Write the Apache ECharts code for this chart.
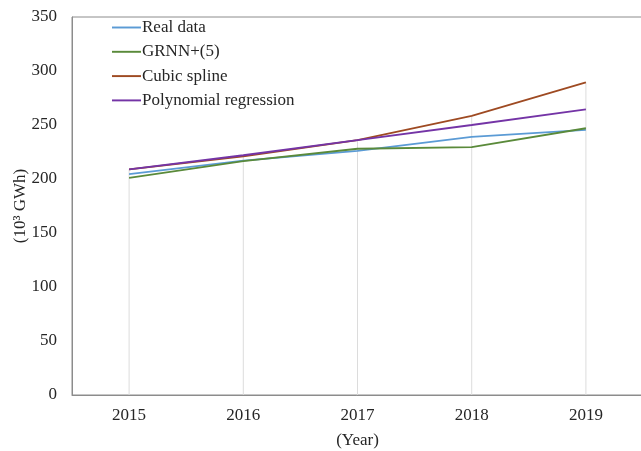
<!DOCTYPE html>
<html>
<head>
<meta charset="utf-8">
<script src="https://cdn.jsdelivr.net/npm/echarts@6/dist/echarts.min.js"></script>
<style>html,body{margin:0;padding:0;background:#fff}#c{width:641px;height:451px}</style>
</head>
<body>
<div id="c"></div>
<script>
const years = ['2015', '2016', '2017', '2018', '2019'];
const realData = [204.5, 217, 226, 239, 245.5];
const grnn = [201, 216.5, 228, 229.5, 247];
const cubicSpline = [209, 221, 236, 258.5, 289.5];
const polyRegression = [209, 222, 236, 250, 264.5];
const yTicks = [0, 50, 100, 150, 200, 250, 300, 350];

const dropLine = years.map((_, i) => Math.max(realData[i], grnn[i], cubicSpline[i], polyRegression[i]));

const font = 'Liberation Serif';
const chart = echarts.init(document.getElementById('c'));
const lineSeries = (name, data, color) => ({
  name, type: 'line', data, symbol: 'none', smooth: false,
  lineStyle: { color, width: 1.8 }, itemStyle: { color }, z: 3
});
chart.setOption({
  animation: false,
  textStyle: { fontFamily: font },
  grid: { left: 72, right: -2, top: 17, bottom: 56, show: true, borderColor: '#8c8c8c', borderWidth: 1, outerBoundsMode: 'none', containLabel: false },
  legend: {
    orient: 'vertical', left: 107, top: 14, itemWidth: 29, itemHeight: 10, itemGap: 7.3,
    icon: 'path://M0,0 L30,0 L30,2 L0,2 Z',
    data: ['Real data', 'GRNN+(5)', 'Cubic spline', 'Polynomial regression'],
    textStyle: { fontFamily: font, fontSize: 17, color: '#262626', padding: [0, 0, 0, -4] }
  },
  xAxis: {
    type: 'category', data: years, boundaryGap: true,
    name: '(Year)', nameLocation: 'middle', nameGap: 37, nameMoveOverlap: false,
    nameTextStyle: { fontFamily: font, fontSize: 17, color: '#262626' },
    axisLine: { lineStyle: { color: '#8c8c8c', width: 1 } },
    axisTick: { show: false },
    axisLabel: { fontFamily: font, fontSize: 17, color: '#262626', margin: 12 },
    splitLine: { show: false }
  },
  yAxis: {
    type: 'value', min: yTicks[0], max: yTicks[yTicks.length - 1], interval: 50,
    name: '(10³ GWh)', nameLocation: 'middle', nameGap: 43, nameRotate: 90, nameMoveOverlap: false,
    nameTextStyle: { fontFamily: font, fontSize: 17, color: '#262626' },
    axisLine: { show: true, lineStyle: { color: '#8c8c8c', width: 1 } },
    axisTick: { show: false },
    axisLabel: { fontFamily: font, fontSize: 17, color: '#262626', margin: 15 },
    splitLine: { show: false }
  },
  series: [
    { name: 'drop', type: 'bar', data: dropLine, barWidth: 1, itemStyle: { color: '#dcdcdc' }, silent: true, z: 1 },
    lineSeries('Real data', realData, '#5b9bd5'),
    lineSeries('GRNN+(5)', grnn, '#5a8a3a'),
    lineSeries('Cubic spline', cubicSpline, '#9e4a22'),
    lineSeries('Polynomial regression', polyRegression, '#7434a6')
  ]
});
</script>
</body>
</html>
